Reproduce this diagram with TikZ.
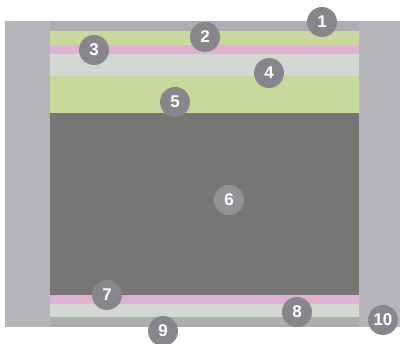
\documentclass[tikz,border=0pt]{standalone}
\usepackage{fontspec}
\setmainfont{Liberation Sans}
\definecolor{sidegray}{HTML}{B6B6BA}
\definecolor{capgray}{HTML}{ADACB1}
\definecolor{leafgreen}{HTML}{C8DA9B}
\definecolor{pinklayer}{HTML}{E0B1D3}
\definecolor{palegray}{HTML}{D3D8D3}
\definecolor{coregray}{HTML}{777674}
\definecolor{markgray}{HTML}{88868A}
\usepackage{tikz}

\begin{document}
\begin{tikzpicture}[x=1pt, y=-1pt,
  numdot/.style={circle, fill=markgray, text=white, minimum size=30pt, inner sep=0pt,
    font=\fontsize{17}{17}\selectfont\bfseries}
]
  \useasboundingbox (0,0) rectangle (400,344);
  % side panels
  \fill[sidegray] (5,21) rectangle (50,327);
  \fill[sidegray] (359,21) rectangle (400,327);
  % layers, top to bottom
  \fill[capgray] (50,21) rectangle (359,31);
  \fill[leafgreen] (50,31) rectangle (359,45);
  \fill[pinklayer] (50,45) rectangle (359,54);
  \fill[palegray] (50,54) rectangle (359,76);
  \fill[leafgreen] (50,76) rectangle (359,113);
  \fill[coregray] (50,113) rectangle (359,295);
  \fill[pinklayer] (50,295) rectangle (359,304);
  \fill[palegray] (50,304) rectangle (359,317);
  \fill[capgray] (50,317) rectangle (359,327);
  % numbered marks
  \node[numdot] (n1) at (322,22) {1};
  \node[numdot] (n2) at (205,37) {2};
  \node[numdot] (n3) at (94,50) {3};
  \node[numdot] (n4) at (269,73) {4};
  \node[numdot] (n5) at (175,102) {5};
  \node[numdot, fill=markgray!90!white] (n6) at (229,200) {6};
  \node[numdot] (n7) at (107,295) {7};
  \node[numdot] (n8) at (297,312) {8};
  \node[numdot] (n9) at (163,331) {9};
  \node[numdot] (n10) at (383,320) {10};
\end{tikzpicture}
\end{document}
